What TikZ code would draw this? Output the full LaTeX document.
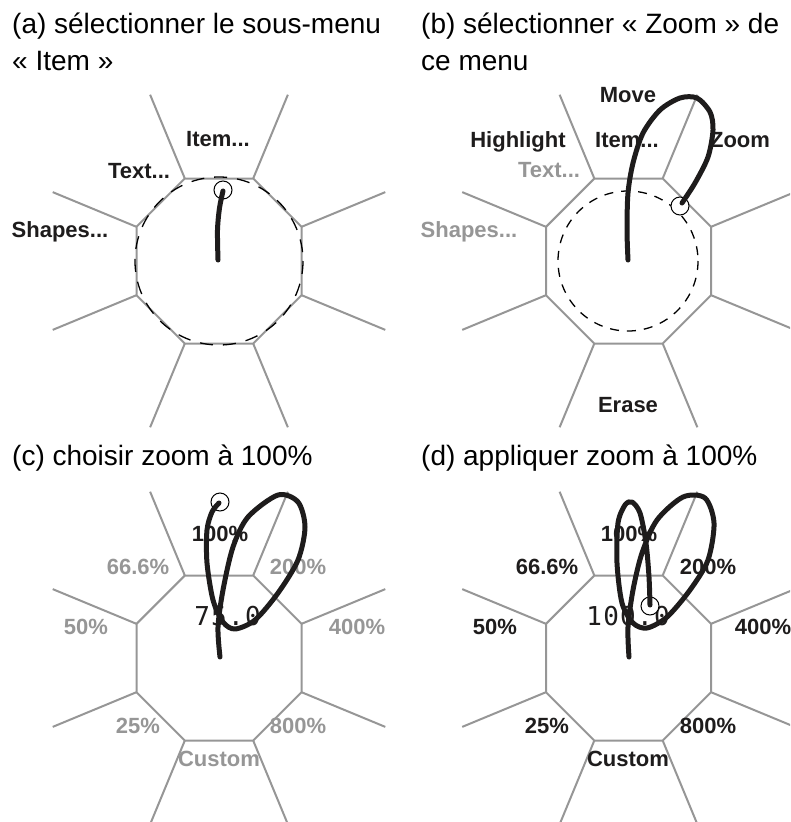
\documentclass[tikz,border=0pt]{standalone}
\usepackage{fontspec}
\setmainfont{Liberation Sans}
\newfontfamily\valuefont[LetterSpace=5]{DejaVu Sans Mono}
\usepackage{tikz}

\definecolor{spoke}{RGB}{150,150,150}
\definecolor{ink}{RGB}{30,28,28}
\tikzset{
  menuline/.style={draw=spoke, line width=2pt},
  captiontext/.style={anchor=base west, inner sep=0pt, font=\fontsize{28}{34}\selectfont},
  menuitem/.style={anchor=base, inner sep=0pt, text=ink, font=\fontsize{22}{26}\selectfont\bfseries},
  dimitem/.style={menuitem, text=spoke},
  valuetext/.style={anchor=base east, inner sep=0pt, text=ink, font=\fontsize{26}{30}\selectfont\valuefont},
  ring/.style={draw=black, line width=1.3pt},
  marker/.style={circle, draw=black, fill=white, line width=1pt, minimum size=18pt, inner sep=0pt},
  gesture/.style={draw=ink, line width=5pt, line cap=round, line join=round},
}

\begin{document}
\begin{tikzpicture}[x=1pt,y=-1pt]
\useasboundingbox (0,0) rectangle (790,822);
\clip (0,0) rectangle (790,822);

% the four octagonal menus
\foreach \cx/\cy in {219/261, 628.5/261, 219/658, 628.5/658}{
  \begin{scope}[shift={(\cx,\cy)}]
    \draw[menuline] (22.5:89.3) \foreach \a in {67.5,112.5,...,337.5}{ -- (\a:89.3)} -- cycle;
    \foreach \a in {22.5,67.5,...,337.5}
      \draw[menuline] (\a:89.3) -- (\a:180);
  \end{scope}
}

% captions
\node[captiontext] (ca1) at (12,33) {(a) sélectionner le sous-menu};
\node[captiontext] (ca2) at (12,70) {« Item »};
\node[captiontext] (cb1) at (421,33) {(b) sélectionner « Zoom » de};
\node[captiontext] (cb2) at (421,70) {ce menu};
\node[captiontext] (cc1) at (12,465) {(c) choisir zoom à 100\%};
\node[captiontext] (cd1) at (421,465) {(d) appliquer zoom à 100\%};

% (a)
\node[menuitem] (a0) at (218,146) {Item...};
\node[menuitem] (a1) at (139,178) {Text...};
\node[menuitem] (a2) at (60,237) {Shapes...};
\draw[ring, dash pattern=on 13pt off 10pt] (219,261) circle[radius=84];
\node[marker] (a3) at (223,190) {};
\draw[gesture] plot[smooth] coordinates {(218,260) (217.5,230) (219.5,208) (223,191)};

% (b)
\node[menuitem] (b0) at (628,102) {Move};
\node[menuitem] (b1) at (627,147) {Item...};
\node[menuitem] (b2) at (518,147) {Highlight};
\node[menuitem] (b3) at (740,147) {Zoom};
\node[dimitem] (b4) at (549,177) {Text...};
\node[dimitem] (b5) at (469,237) {Shapes...};
\node[menuitem] (b6) at (628,412) {Erase};
\draw[ring, dash pattern=on 9pt off 8pt] (628,261) circle[radius=70];
\node[marker] (b7) at (680,206) {};
\draw[gesture] plot[smooth] coordinates {(628,260) (627,230) (628,193) (633,163) (643,133)
  (660,110) (680,98) (697,98) (710,112) (713,130) (708,157) (695,183) (682,203)};

% (c)
\node[menuitem] (c0) at (220,541) {100\%};
\node[dimitem] (c1) at (138,574) {66.6\%};
\node[dimitem] (c2) at (298,574) {200\%};
\node[dimitem] (c3) at (86,634) {50\%};
\node[dimitem] (c4) at (357,634) {400\%};
\node[dimitem] (c5) at (138,733) {25\%};
\node[dimitem] (c6) at (298,733) {800\%};
\node[dimitem] (c7) at (219,766) {Custom};
\node[valuetext] (c8) at (261,625) {75.0};
\node[marker] (c9) at (220,502) {};
\draw[gesture] plot[smooth] coordinates {(220,657) (218,627) (223,590) (233,547) (248,517)
  (278,495) (298,502) (305,527) (298,560) (278,593) (255,620) (235,629) (223,622)
  (213,600) (207,563) (207,530) (212,512) (219,503)};

% (d)
\node[menuitem] (d0) at (629,541) {100\%};
\node[menuitem] (d1) at (547,574) {66.6\%};
\node[menuitem] (d2) at (708,574) {200\%};
\node[menuitem] (d3) at (495,634) {50\%};
\node[menuitem] (d4) at (763,634) {400\%};
\node[menuitem] (d5) at (547,733) {25\%};
\node[menuitem] (d6) at (708,733) {800\%};
\node[menuitem] (d7) at (628,766) {Custom};
\node[valuetext] (d8) at (670,625) {100.0};
\node[marker] (d9) at (650,606) {};
\draw[gesture] plot[smooth] coordinates {(629,657) (628,627) (633,590) (642,553) (657,520)
  (683,497) (705,498) (714,523) (708,560) (690,590) (667,617) (647,628) (633,623)
  (622,603) (617,563) (618,523) (625,505) (632,502) (640,513) (646,543) (649,577) (650,605)};
\end{tikzpicture}
\end{document}
